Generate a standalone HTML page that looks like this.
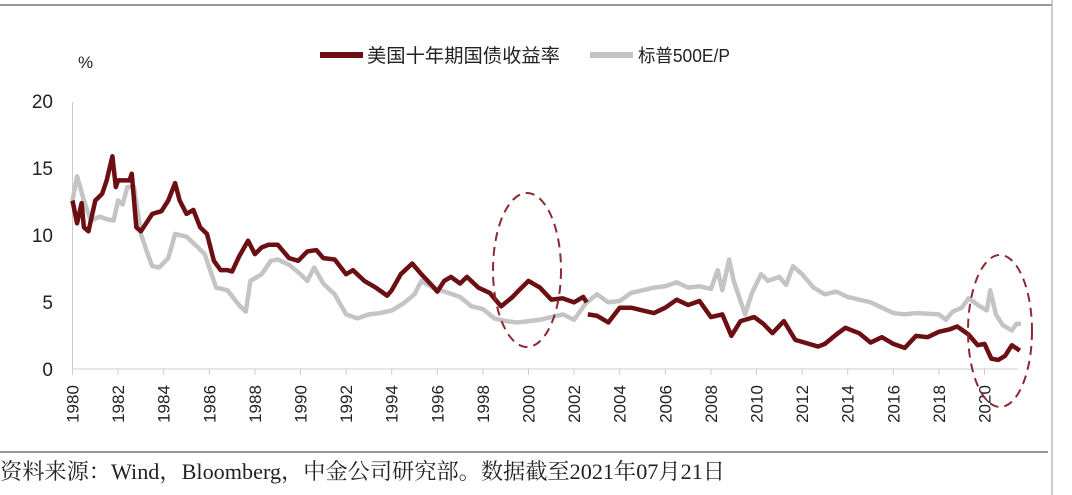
<!DOCTYPE html>
<html><head><meta charset="utf-8"><style>
body{margin:0;background:#fff;width:1072px;height:495px;overflow:hidden}
svg{display:block}
text{font-family:"Liberation Sans","Noto Sans CJK SC",sans-serif;fill:#222}
</style></head><body>
<svg width="1072" height="495" viewBox="0 0 1072 495">
<line x1="0" y1="5" x2="1052" y2="5" stroke="#777" stroke-width="1.5"/>
<line x1="0" y1="452" x2="1048" y2="452" stroke="#777" stroke-width="1.5"/>
<line x1="1052" y1="0" x2="1052" y2="495" stroke="#bbb" stroke-width="1.5"/>
<line x1="320" y1="55" x2="363" y2="55" stroke="#6b0f12" stroke-width="6"/>
<text x="367" y="62" font-size="19" textLength="193" lengthAdjust="spacingAndGlyphs">美国十年期国债收益率</text>
<line x1="590" y1="55" x2="633" y2="55" stroke="#c4c4c4" stroke-width="6"/>
<text x="638" y="62" font-size="18" textLength="92" lengthAdjust="spacingAndGlyphs">标普500E/P</text>
<text x="78" y="68" font-size="17">%</text>
<g font-size="19" text-anchor="end">
<text x="53" y="108">20</text><text x="53" y="175">15</text><text x="53" y="242">10</text><text x="53" y="309">5</text><text x="53" y="376">0</text>
</g>
<line x1="72.5" y1="102" x2="72.5" y2="369" stroke="#ccc" stroke-width="1"/>
<line x1="72.5" y1="369" x2="1018" y2="369" stroke="#ccc" stroke-width="1"/>
<g stroke="#ccc">
<line x1="72.5" y1="369" x2="72.5" y2="375"/><line x1="118.1" y1="369" x2="118.1" y2="375"/><line x1="163.7" y1="369" x2="163.7" y2="375"/><line x1="209.3" y1="369" x2="209.3" y2="375"/><line x1="254.9" y1="369" x2="254.9" y2="375"/><line x1="300.5" y1="369" x2="300.5" y2="375"/><line x1="346.1" y1="369" x2="346.1" y2="375"/><line x1="391.7" y1="369" x2="391.7" y2="375"/><line x1="437.3" y1="369" x2="437.3" y2="375"/><line x1="482.9" y1="369" x2="482.9" y2="375"/><line x1="528.5" y1="369" x2="528.5" y2="375"/><line x1="574.1" y1="369" x2="574.1" y2="375"/><line x1="619.7" y1="369" x2="619.7" y2="375"/><line x1="665.3" y1="369" x2="665.3" y2="375"/><line x1="710.9" y1="369" x2="710.9" y2="375"/><line x1="756.5" y1="369" x2="756.5" y2="375"/><line x1="802.1" y1="369" x2="802.1" y2="375"/><line x1="847.7" y1="369" x2="847.7" y2="375"/><line x1="893.3" y1="369" x2="893.3" y2="375"/><line x1="938.9" y1="369" x2="938.9" y2="375"/><line x1="984.5" y1="369" x2="984.5" y2="375"/>
</g>
<g font-size="17" text-anchor="middle">
<text transform="translate(78.5,404) rotate(-90)">1980</text>
<text transform="translate(124.1,404) rotate(-90)">1982</text>
<text transform="translate(169.7,404) rotate(-90)">1984</text>
<text transform="translate(215.3,404) rotate(-90)">1986</text>
<text transform="translate(260.9,404) rotate(-90)">1988</text>
<text transform="translate(306.5,404) rotate(-90)">1990</text>
<text transform="translate(352.1,404) rotate(-90)">1992</text>
<text transform="translate(397.7,404) rotate(-90)">1994</text>
<text transform="translate(443.3,404) rotate(-90)">1996</text>
<text transform="translate(488.9,404) rotate(-90)">1998</text>
<text transform="translate(534.5,404) rotate(-90)">2000</text>
<text transform="translate(580.1,404) rotate(-90)">2002</text>
<text transform="translate(625.7,404) rotate(-90)">2004</text>
<text transform="translate(671.3,404) rotate(-90)">2006</text>
<text transform="translate(716.9,404) rotate(-90)">2008</text>
<text transform="translate(762.5,404) rotate(-90)">2010</text>
<text transform="translate(808.1,404) rotate(-90)">2012</text>
<text transform="translate(853.7,404) rotate(-90)">2014</text>
<text transform="translate(899.3,404) rotate(-90)">2016</text>
<text transform="translate(944.9,404) rotate(-90)">2018</text>
<text transform="translate(990.5,404) rotate(-90)">2020</text>
</g>
<g transform="translate(72.5,368) scale(22.8,-13.4)" fill="none" stroke-linejoin="round">
<polyline vector-effect="non-scaling-stroke" stroke="#c4c4c4" stroke-width="4.5" points="0,12.5 0.2,14.3 0.5,12.5 0.8,11 1.2,11.3 1.5,11.1 1.8,11 2,12.5 2.2,12.2 2.4,13.5 2.7,13.5 3,10 3.3,8.5 3.5,7.6 3.8,7.5 4.2,8.2 4.5,10 5,9.8 5.5,9 5.8,8.5 6,7.5 6.3,6 6.8,5.8 7.3,4.7 7.6,4.2 7.8,6.5 8.3,7 8.7,8 9,8.1 9.5,7.7 10,7 10.3,6.5 10.6,7.5 11,6.3 11.5,5.5 12,4 12.5,3.7 13,4 13.5,4.1 14,4.3 14.5,4.8 15,5.5 15.3,6.5 15.8,6 16.5,5.6 17,5.3 17.5,4.6 18,4.4 18.5,3.7 19,3.5 19.5,3.4 20,3.5 20.5,3.6 21,3.8 21.5,4 22,3.6 22.5,4.8 23,5.5 23.5,4.9 24,5 24.5,5.6 25,5.8 25.5,6 26,6.1 26.5,6.4 27,6 27.5,6.1 28,5.9 28.3,7.3 28.5,5.8 28.8,8.1 29,6.5 29.5,4 29.8,5.6 30.2,7 30.5,6.5 31,6.8 31.3,6.2 31.6,7.6 32,7 32.5,6 33,5.5 33.5,5.7 34,5.3 35,4.9 35.5,4.5 36,4.1 36.5,4 37,4.1 38,4 38.3,3.6 38.6,4.2 39,4.5 39.3,5.2 39.8,4.6 40.1,4.3 40.25,5.8 40.5,4 40.8,3.2 41.2,2.8 41.4,3.3 41.6,3.3"/>
<polyline vector-effect="non-scaling-stroke" stroke="#6b0f12" stroke-width="4.5" points="0,12.5 0.2,10.8 0.4,12.3 0.5,10.5 0.7,10.2 1,12.5 1.3,13 1.5,14 1.75,15.8 1.9,13.5 2,14 2.5,14 2.6,14.5 2.8,10.5 3,10.2 3.5,11.5 3.9,11.7 4.2,12.5 4.5,13.8 4.7,12.5 5,11.5 5.3,11.8 5.6,10.5 5.9,10 6.2,8 6.5,7.3 6.8,7.3 7,7.2 7.3,8.3 7.7,9.5 8,8.5 8.3,9 8.6,9.2 9,9.2 9.5,8.2 9.9,8 10.3,8.7 10.7,8.8 11,8.2 11.5,8.1 12,7 12.3,7.3 12.8,6.5 13.3,6 13.8,5.4 14,5.8 14.4,7 14.9,7.8 15.3,7 15.8,6.1 16,5.7 16.3,6.5 16.6,6.8 17,6.3 17.3,6.8 17.8,6 18.3,5.6 18.8,4.6 19.3,5.3 19.7,6 20,6.5 20.5,6 21,5.1 21.5,5.2 22,4.9 22.4,5.3 22.55,4.9"/>
<polyline vector-effect="non-scaling-stroke" stroke="#6b0f12" stroke-width="4.5" points="22.6,4 23,3.9 23.5,3.4 24,4.5 24.5,4.5 25,4.3 25.5,4.1 26,4.5 26.5,5.1 27,4.7 27.5,5 28,3.8 28.5,4 28.9,2.4 29.3,3.5 29.9,3.8 30.3,3.3 30.7,2.6 31.2,3.5 31.7,2.1 32.3,1.8 32.7,1.6 33,1.8 33.5,2.5 33.9,3 34.5,2.6 35,1.9 35.5,2.3 36,1.8 36.5,1.5 37,2.4 37.5,2.3 38,2.7 38.5,2.9 38.8,3.1 39.3,2.5 39.7,1.7 40,1.8 40.3,0.7 40.6,0.6 40.9,0.9 41.2,1.7 41.55,1.3"/>
</g>
<ellipse cx="527" cy="270" rx="34" ry="77" fill="none" stroke="#8b2a33" stroke-width="2" stroke-dasharray="9,6"/>
<ellipse cx="1000" cy="331" rx="32" ry="76" fill="none" stroke="#8b2a33" stroke-width="2" stroke-dasharray="9,6"/>
<text x="0" y="479" font-size="22" textLength="725" lengthAdjust="spacingAndGlyphs" style="font-family:'Liberation Serif','Noto Serif CJK SC',serif">资料来源：Wind，Bloomberg，中金公司研究部。数据截至2021年07月21日</text>
</svg>
</body></html>
